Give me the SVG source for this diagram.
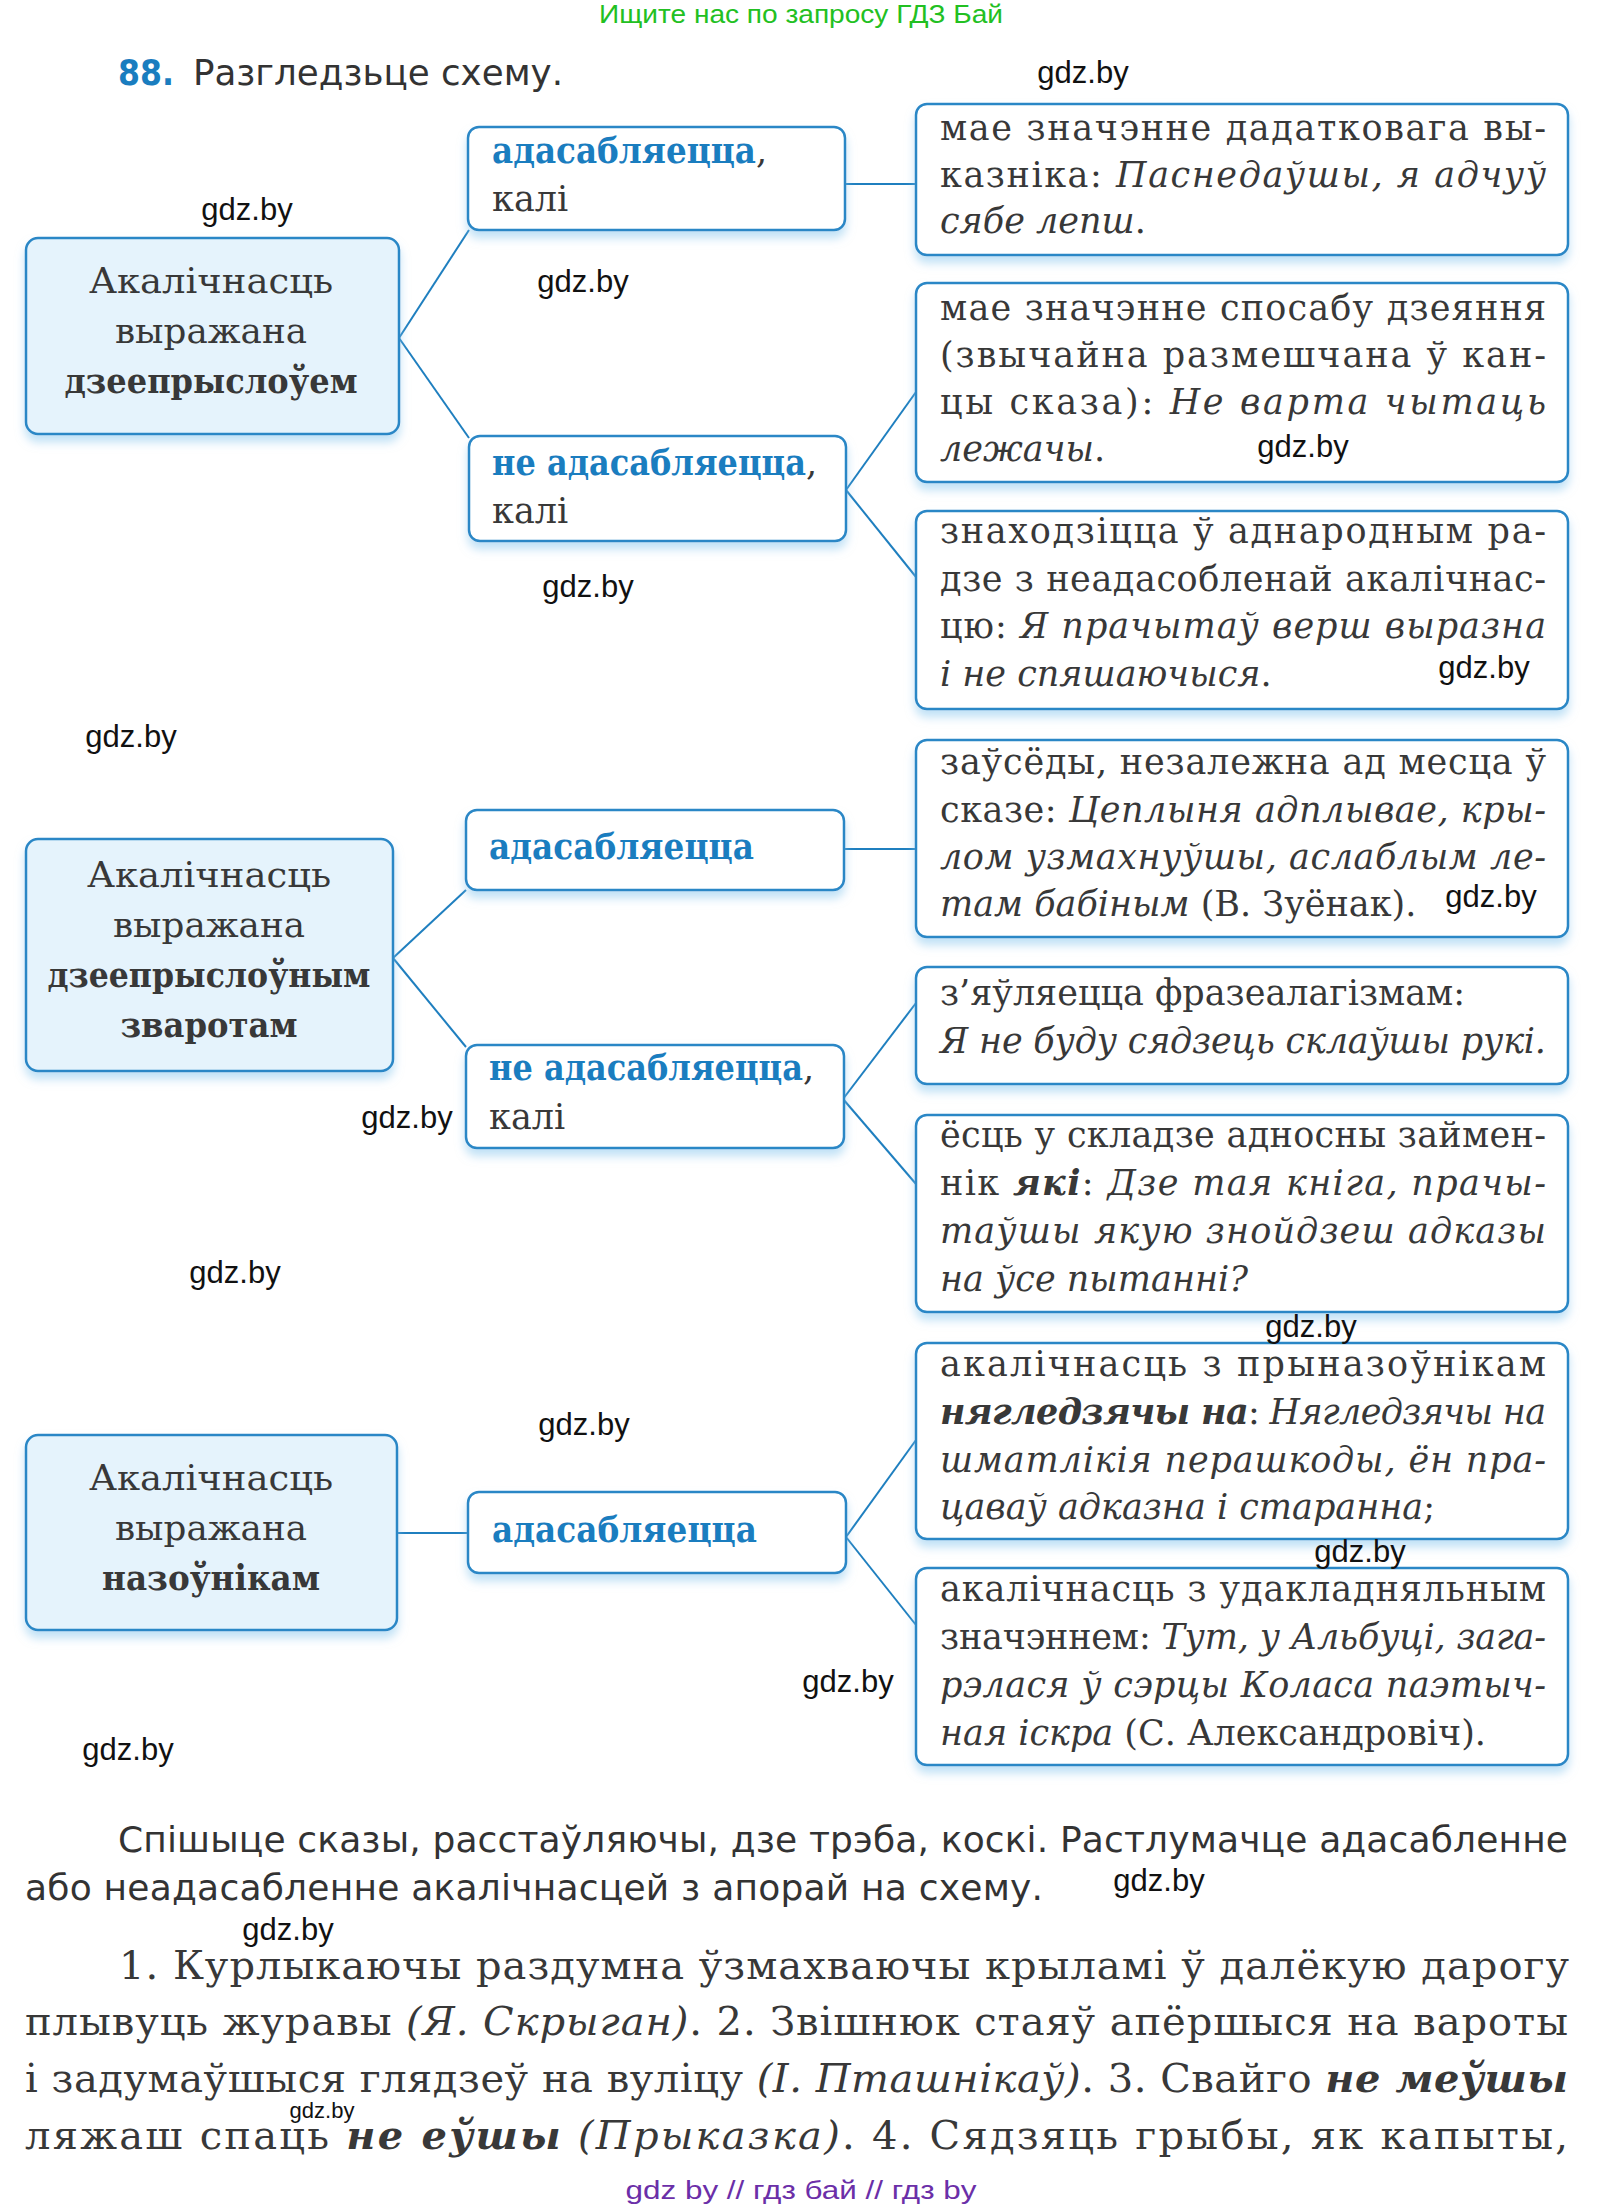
<svg xmlns="http://www.w3.org/2000/svg" width="1605" height="2209" viewBox="0 0 1605 2209">
<style>
.bg{fill:#fff}
.box{fill:#fff;stroke:#2a87c6;stroke-width:2.5}
.root{fill:#e5f3fc;stroke:#2a87c6;stroke-width:2.5}
.t{font-family:"DejaVu Serif","Liberation Serif",serif;font-size:35px;fill:#383838}
.r{font-family:"DejaVu Serif","Liberation Serif",serif;font-size:36px;fill:#383838}
.i{font-style:italic}
.b{font-weight:bold}
.bl{font-family:"DejaVu Serif","Liberation Serif",serif;font-size:35px;font-weight:bold;fill:#1a7dbf}
.wm{font-family:"Liberation Sans",Arial,sans-serif;font-size:31px;fill:#111}
.sans{font-family:"DejaVu Sans","Liberation Sans",sans-serif;fill:#333}
.p{font-family:"DejaVu Serif","Liberation Serif",serif;font-size:40px;fill:#383838}
.con{stroke:#1f7fbf;stroke-width:2;fill:none}
</style>
<defs>
<filter id="sh" x="-10%" y="-15%" width="120%" height="150%">
<feDropShadow dx="0" dy="7" stdDeviation="5" flood-color="#8cc8ee" flood-opacity="0.55"/>
</filter>
</defs>
<rect class="bg" x="0" y="0" width="1605" height="2209"/>

<text x="801" y="23" text-anchor="middle" font-family="'Liberation Sans',Arial,sans-serif" font-size="25" fill="#22c022" textLength="404" lengthAdjust="spacingAndGlyphs">Ищите нас по запросу ГДЗ Бай</text>

<text x="118" y="85" class="sans" font-size="36" font-weight="bold" style="fill:#1a7dbf" textLength="56" lengthAdjust="spacingAndGlyphs">88.</text>
<text x="193" y="85" class="sans" font-size="35" textLength="370" lengthAdjust="spacingAndGlyphs">Разгледзьце схему.</text>

<g id="connectors">
<path class="con" d="M399,338 L469,230"/>
<path class="con" d="M399,338 L469,438"/>
<path class="con" d="M845,184 L916,184"/>
<path class="con" d="M846,490 L916,392"/>
<path class="con" d="M846,490 L916,577"/>
<path class="con" d="M393,958 L466,890"/>
<path class="con" d="M393,958 L466,1047"/>
<path class="con" d="M844,849 L916,849"/>
<path class="con" d="M843,1099 L916,1003"/>
<path class="con" d="M843,1099 L916,1184"/>
<path class="con" d="M397,1533 L468,1533"/>
<path class="con" d="M846,1537 L916,1440"/>
<path class="con" d="M846,1537 L916,1625"/>
</g>

<g id="root1">
<rect class="root" x="26" y="238" width="373" height="196" rx="12" filter="url(#sh)"/>
<text class="r" x="211" y="293" text-anchor="middle" textLength="244" lengthAdjust="spacingAndGlyphs">Акалічнасць</text>
<text class="r" x="211" y="343" text-anchor="middle" textLength="192" lengthAdjust="spacingAndGlyphs">выражана</text>
<text class="r b" x="211" y="393" text-anchor="middle" textLength="293" lengthAdjust="spacingAndGlyphs">дзеепрыслоўем</text>
</g>

<g id="b1">
<rect class="box" x="468" y="127" width="377" height="103" rx="11" filter="url(#sh)"/>
<text class="t" x="492" y="163"><tspan class="bl" textLength="264" lengthAdjust="spacingAndGlyphs">адасабляецца</tspan>,</text>
<text class="t" x="492" y="211">калі</text>
</g>

<g id="c1">
<rect class="box" x="916" y="104" width="652" height="151" rx="11" filter="url(#sh)"/>
<text class="t" x="940" y="140" textLength="606" lengthAdjust="spacing">мае значэнне дадатковага вы-</text>
<text class="t" x="940" y="187" textLength="606" lengthAdjust="spacing">казніка: <tspan class="i">Паснедаўшы, я адчуў</tspan></text>
<text class="t" x="940" y="233"><tspan class="i">сябе лепш</tspan>.</text>
</g>

<g id="b2">
<rect class="box" x="469" y="436" width="377" height="105" rx="11" filter="url(#sh)"/>
<text class="t" x="492" y="475"><tspan class="bl" textLength="314" lengthAdjust="spacingAndGlyphs">не адасабляецца</tspan>,</text>
<text class="t" x="492" y="523">калі</text>
</g>

<g id="c2">
<rect class="box" x="916" y="283" width="652" height="199" rx="11" filter="url(#sh)"/>
<text class="t" x="940" y="320" textLength="606" lengthAdjust="spacing">мае значэнне спосабу дзеяння</text>
<text class="t" x="940" y="367" textLength="606" lengthAdjust="spacing">(звычайна размешчана ў кан-</text>
<text class="t" x="940" y="414" textLength="606" lengthAdjust="spacing">цы сказа): <tspan class="i">Не варта чытаць</tspan></text>
<text class="t" x="940" y="461"><tspan class="i">лежачы</tspan>.</text>
</g>

<g id="c3">
<rect class="box" x="916" y="511" width="652" height="198" rx="11" filter="url(#sh)"/>
<text class="t" x="940" y="543" textLength="606" lengthAdjust="spacing">знаходзіцца ў аднародным ра-</text>
<text class="t" x="940" y="591" textLength="606" lengthAdjust="spacing">дзе з неадасобленай акалічнас-</text>
<text class="t" x="940" y="638" textLength="606" lengthAdjust="spacing">цю: <tspan class="i">Я прачытаў верш выразна</tspan></text>
<text class="t" x="940" y="686"><tspan class="i">і не спяшаючыся</tspan>.</text>
</g>

<g id="root2">
<rect class="root" x="26" y="839" width="367" height="232" rx="12" filter="url(#sh)"/>
<text class="r" x="209" y="887" text-anchor="middle" textLength="244" lengthAdjust="spacingAndGlyphs">Акалічнасць</text>
<text class="r" x="209" y="937" text-anchor="middle" textLength="192" lengthAdjust="spacingAndGlyphs">выражана</text>
<text class="r b" x="209" y="987" text-anchor="middle" textLength="323" lengthAdjust="spacingAndGlyphs">дзеепрыслоўным</text>
<text class="r b" x="209" y="1037" text-anchor="middle" textLength="177" lengthAdjust="spacingAndGlyphs">зваротам</text>
</g>

<g id="b3">
<rect class="box" x="466" y="810" width="378" height="80" rx="11" filter="url(#sh)"/>
<text class="bl" x="489" y="859" textLength="265" lengthAdjust="spacingAndGlyphs">адасабляецца</text>
</g>

<g id="c4">
<rect class="box" x="916" y="740" width="652" height="197" rx="11" filter="url(#sh)"/>
<text class="t" x="940" y="774" textLength="606" lengthAdjust="spacing">заўсёды, незалежна ад месца ў</text>
<text class="t" x="940" y="822" textLength="606" lengthAdjust="spacing">сказе: <tspan class="i">Цеплыня адплывае, кры-</tspan></text>
<text class="t i" x="940" y="869" textLength="606" lengthAdjust="spacing">лом узмахнуўшы, аслаблым ле-</text>
<text class="t" x="940" y="916"><tspan class="i">там бабіным</tspan> (В. Зуёнак).</text>
</g>

<g id="b4">
<rect class="box" x="466" y="1045" width="378" height="103" rx="11" filter="url(#sh)"/>
<text class="t" x="489" y="1080"><tspan class="bl" textLength="314" lengthAdjust="spacingAndGlyphs">не адасабляецца</tspan>,</text>
<text class="t" x="489" y="1129">калі</text>
</g>

<g id="c5">
<rect class="box" x="916" y="967" width="652" height="117" rx="11" filter="url(#sh)"/>
<text class="t" x="940" y="1005">з’яўляецца фразеалагізмам:</text>
<text class="t i" x="940" y="1053" textLength="606" lengthAdjust="spacing">Я не буду сядзець склаўшы рукі.</text>
</g>

<g id="c6">
<rect class="box" x="916" y="1115" width="652" height="197" rx="11" filter="url(#sh)"/>
<text class="t" x="940" y="1147" textLength="606" lengthAdjust="spacing">ёсць у складзе адносны займен-</text>
<text class="t" x="940" y="1195" textLength="606" lengthAdjust="spacing">нік <tspan class="i b">які</tspan>: <tspan class="i">Дзе тая кніга, прачы-</tspan></text>
<text class="t i" x="940" y="1243" textLength="606" lengthAdjust="spacing">таўшы якую знойдзеш адказы</text>
<text class="t i" x="940" y="1291">на ўсе пытанні?</text>
</g>

<g id="root3">
<rect class="root" x="26" y="1435" width="371" height="195" rx="12" filter="url(#sh)"/>
<text class="r" x="211" y="1490" text-anchor="middle" textLength="244" lengthAdjust="spacingAndGlyphs">Акалічнасць</text>
<text class="r" x="211" y="1540" text-anchor="middle" textLength="192" lengthAdjust="spacingAndGlyphs">выражана</text>
<text class="r b" x="211" y="1590" text-anchor="middle" textLength="218" lengthAdjust="spacingAndGlyphs">назоўнікам</text>
</g>

<g id="b5">
<rect class="box" x="468" y="1492" width="378" height="81" rx="11" filter="url(#sh)"/>
<text class="bl" x="492" y="1542" textLength="265" lengthAdjust="spacingAndGlyphs">адасабляецца</text>
</g>

<g id="c7">
<rect class="box" x="916" y="1343" width="652" height="196" rx="11" filter="url(#sh)"/>
<text class="t" x="940" y="1376" textLength="606" lengthAdjust="spacing">акалічнасць з прыназоўнікам</text>
<text class="t" x="940" y="1424" textLength="606" lengthAdjust="spacing"><tspan class="i b">нягледзячы на</tspan>: <tspan class="i">Нягледзячы на</tspan></text>
<text class="t i" x="940" y="1472" textLength="606" lengthAdjust="spacing">шматлікія перашкоды, ён пра-</text>
<text class="t" x="940" y="1519"><tspan class="i">цаваў адказна і старанна</tspan>;</text>
</g>

<g id="c8">
<rect class="box" x="916" y="1568" width="652" height="197" rx="11" filter="url(#sh)"/>
<text class="t" x="940" y="1601" textLength="606" lengthAdjust="spacing">акалічнасць з удакладняльным</text>
<text class="t" x="940" y="1649" textLength="606" lengthAdjust="spacing">значэннем: <tspan class="i">Тут, у Альбуці, зага-</tspan></text>
<text class="t i" x="940" y="1697" textLength="606" lengthAdjust="spacing">рэлася ў сэрцы Коласа паэтыч-</text>
<text class="t" x="940" y="1745"><tspan class="i">ная іскра</tspan> (С. Александровіч).</text>
</g>

<text class="sans" x="118" y="1852" font-size="36" textLength="1450" lengthAdjust="spacing">Спішыце сказы, расстаўляючы, дзе трэба, коскі. Растлумачце адасабленне</text>
<text class="sans" x="25" y="1900" font-size="36" textLength="1018" lengthAdjust="spacing">або неадасабленне акалічнасцей з апорай на схему.</text>

<text class="p" x="119" y="1979" textLength="1450" lengthAdjust="spacing">1. Курлыкаючы раздумна ўзмахваючы крыламі ў далёкую дарогу</text>
<text class="p" x="25" y="2035" textLength="1543" lengthAdjust="spacing">плывуць журавы <tspan class="i">(Я. Скрыган)</tspan>. 2. Звішнюк стаяў апёршыся на вароты</text>
<text class="p" x="25" y="2092" textLength="1543" lengthAdjust="spacing">і задумаўшыся глядзеў на вуліцу <tspan class="i">(І. Пташнікаў)</tspan>. 3. Свайго <tspan class="i b">не меўшы</tspan></text>
<text class="p" x="25" y="2149" textLength="1543" lengthAdjust="spacing">ляжаш спаць <tspan class="i b">не еўшы</tspan> <tspan class="i">(Прыказка)</tspan>. 4. Сядзяць грыбы, як капыты,</text>

<text x="801" y="2199" text-anchor="middle" font-family="'Liberation Sans',Arial,sans-serif" font-size="25" fill="#6b2fa8" textLength="351" lengthAdjust="spacingAndGlyphs">gdz by // гдз бай // гдз by</text>

<g id="watermarks" class="wm" text-anchor="middle">
<text x="1083" y="83">gdz.by</text>
<text x="247" y="220">gdz.by</text>
<text x="583" y="292">gdz.by</text>
<text x="1303" y="457">gdz.by</text>
<text x="588" y="597">gdz.by</text>
<text x="1484" y="678">gdz.by</text>
<text x="131" y="747">gdz.by</text>
<text x="1491" y="907">gdz.by</text>
<text x="407" y="1128">gdz.by</text>
<text x="235" y="1283">gdz.by</text>
<text x="1311" y="1337">gdz.by</text>
<text x="584" y="1435">gdz.by</text>
<text x="1360" y="1562">gdz.by</text>
<text x="848" y="1692">gdz.by</text>
<text x="128" y="1760">gdz.by</text>
<text x="1159" y="1891">gdz.by</text>
<text x="288" y="1940">gdz.by</text>
<text x="322" y="2118" font-size="22">gdz.by</text>
</g>
</svg>
